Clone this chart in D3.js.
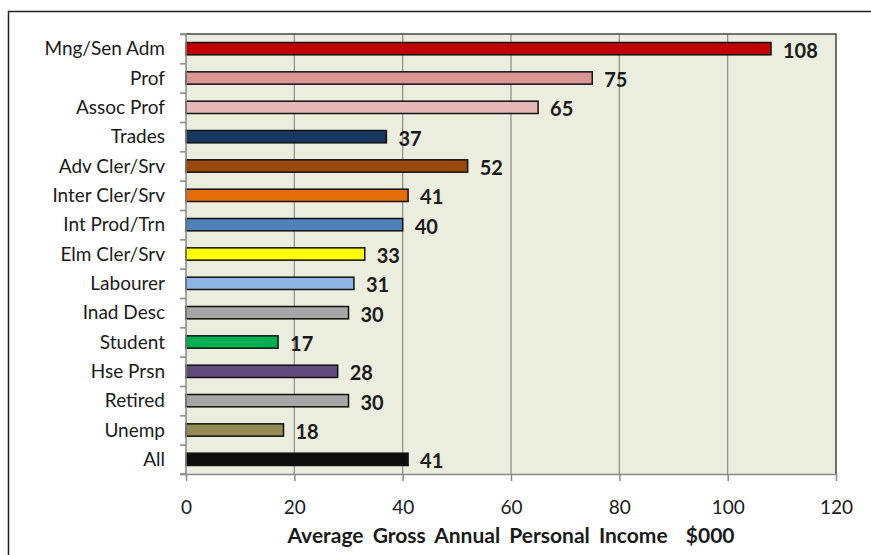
<!DOCTYPE html>
<html><head><meta charset="utf-8">
<script src="https://cdn.jsdelivr.net/npm/d3@7"></script>
<style>body{margin:0;background:#fff}svg{display:block}text{font-family:Lato,"Open Sans",sans-serif;fill:#1a1a1a}</style>
</head><body>
<svg id="c" width="871" height="555"></svg>
<script>
const categories = ["Mng/Sen Adm","Prof","Assoc Prof","Trades","Adv Cler/Srv","Inter Cler/Srv","Int Prod/Trn","Elm Cler/Srv","Labourer","Inad Desc","Student","Hse Prsn","Retired","Unemp","All"];
const values = [108,75,65,37,52,41,40,33,31,30,17,28,30,18,41];
const colors = ["#c00000","#d99694","#e6b9b8","#17375e","#984807","#e46c0a","#4f81bd","#ffff00","#8eb4e3","#a6a6a6","#00b050","#604a7b","#a6a6a6","#948a54","#0d0d0d"];
const xTicks = [0,20,40,60,80,100,120];
const xTitle = "Average Gross Annual Personal Income  $000";

const svg = d3.select("#c");
const m = {l:186, t:34, r:836, b:474};
const x = d3.scaleLinear().domain([0,120]).range([m.l, m.r]);
const y = d3.scaleBand().domain(categories).range([m.t, m.b]).paddingInner(0.58).paddingOuter(0.29);

// outer border
svg.append("rect").attr("x",8.5).attr("y",11.5).attr("width",900).attr("height",600)
  .attr("fill","#fff").attr("stroke","#222").attr("stroke-width",1.5);
// plot bg
svg.append("rect").attr("x",m.l).attr("y",m.t).attr("width",m.r-m.l).attr("height",m.b-m.t)
  .attr("fill","#ebeedf");
// gridlines
svg.append("g").selectAll("line").data(xTicks.slice(1,-1)).join("line")
  .attr("x1",d=>x(d)).attr("x2",d=>x(d)).attr("y1",m.t).attr("y2",m.b)
  .attr("stroke","#8a8a8a").attr("stroke-width",1.2);
// plot border top/right
svg.append("path").attr("d",`M${m.l},${m.t}H${m.r}V${m.b}`).attr("fill","none").attr("stroke","#444").attr("stroke-width",1.5);

// bars
svg.append("g").selectAll("rect").data(values).join("rect")
  .attr("x",x(0)).attr("y",(d,i)=>y(categories[i]))
  .attr("width",d=>x(d)-x(0)).attr("height",y.bandwidth())
  .attr("fill",(d,i)=>colors[i]).attr("stroke","#111").attr("stroke-width",1.5);

// value labels
svg.append("g").selectAll("text").data(values).join("text")
  .attr("x",d=>x(d)+12).attr("y",(d,i)=>y(categories[i])+y.bandwidth()/2+2)
  .attr("dy","0.35em").attr("font-size",20).attr("font-weight","bold").text(d=>d);

// y axis
const ya = d3.axisLeft(d3.scaleLinear().domain([0,15]).range([m.t,m.b])).ticks(15).tickSize(6).tickFormat("");
const yg = svg.append("g").attr("transform",`translate(${m.l},0)`).call(ya);
yg.selectAll("line,path").attr("stroke","#888").attr("stroke-width",1.5);
yg.select(".domain").attr("d",`M-6,${m.t}H0V${m.b}H-6`);
svg.append("g").selectAll("text").data(categories).join("text")
  .attr("x",165).attr("y",d=>y(d)+y.bandwidth()/2).attr("dy","0.35em")
  .attr("text-anchor","end").attr("font-size",19).attr("fill","#222").text(d=>d);

// x axis
const xa = d3.axisBottom(x).tickValues(xTicks).tickSize(7).tickPadding(20).tickSizeOuter(0);
const xg = svg.append("g").attr("transform",`translate(0,${m.b})`).call(xa);
xg.selectAll("line,path").attr("stroke","#888").attr("stroke-width",1.5);
xg.selectAll("text").attr("font-size",19).attr("font-family","Lato,sans-serif").attr("fill","#222");

svg.append("text").attr("x",(m.l+m.r)/2).attr("y",543).attr("text-anchor","middle")
  .attr("font-size",21).attr("font-weight","bold").attr("word-spacing",4)
  .style("white-space","pre").text(xTitle);
</script></body></html>
